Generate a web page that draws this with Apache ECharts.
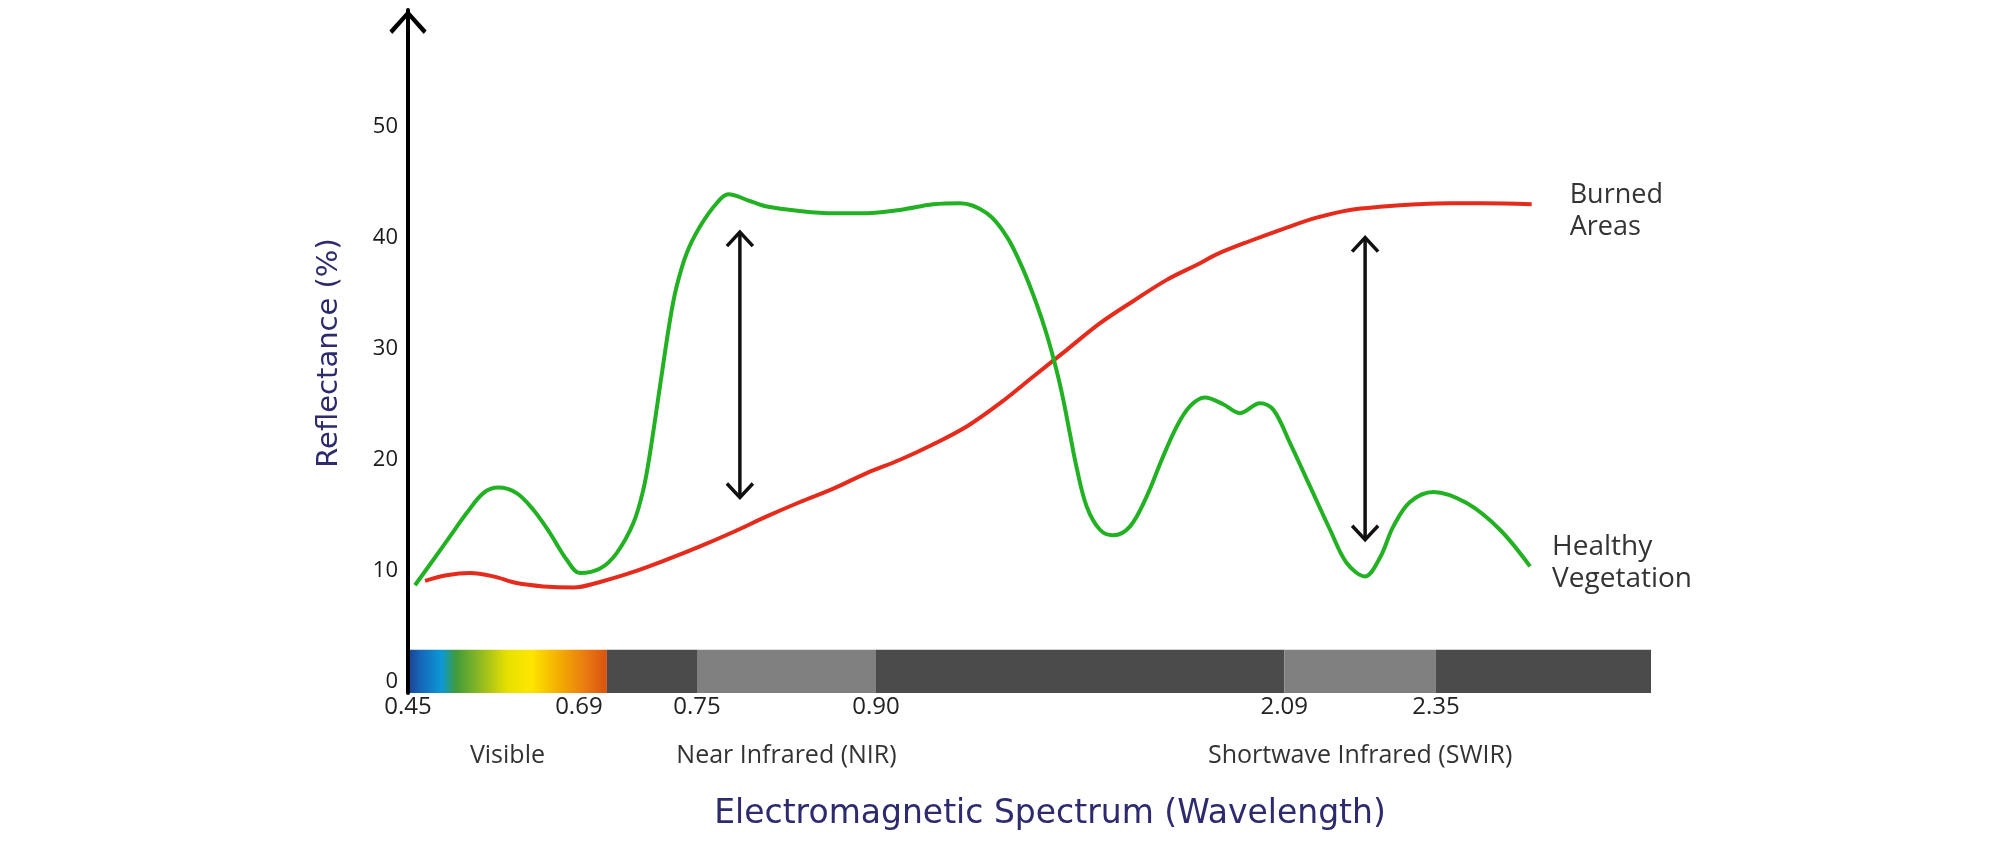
<!DOCTYPE html>
<html><head><meta charset="utf-8">
<script src="https://cdn.jsdelivr.net/npm/echarts@6/dist/echarts.min.js"></script>
<style>html,body{margin:0;padding:0;background:#fff}#c{width:2008px;height:849px}</style>
</head><body><div id="c"></div>
<script>
// Wavelength tick labels (µm) and their schematic positions along the spectrum bar (0-100)
const tickLabels = ['0.45', '0.69', '0.75', '0.90', '2.09', '2.35'];
const tickPos = [0, 16.0, 23.25, 37.65, 70.5, 82.7];
const spectrumEnd = 100;
// Spectral regions: [start tick index, end tick index]
const bandNames = ['Visible', 'Near Infrared (NIR)', 'Shortwave Infrared (SWIR)'];
const bandTicks = [[0, 1], [2, 3], [4, 5]];
const yTicks = [0, 10, 20, 30, 40, 50];

// Healthy vegetation reflectance (%)
const vegPos = [0.56, 2.04, 3.38, 4.72, 6.06, 7.27, 8.74, 10.08, 11.42, 12.77, 13.84, 15.45, 16.79, 18.13, 18.93, 19.47, 20.27, 21.08, 21.61, 22.42, 23.49, 24.83, 25.77, 27.5, 28.86, 31.54, 34.22, 36.9, 39.58, 42.26, 44.41, 46.56, 48.17, 49.5, 50.58, 51.38, 52.19, 52.72, 53.26, 53.79, 54.6, 55.67, 56.74, 58.09, 59.43, 60.6, 61.8, 62.9, 64.11, 65.59, 66.93, 68.54, 69.62, 70.96, 72.57, 74.18, 75.52, 76.99, 78.2, 79.27, 80.61, 82.49, 85.17, 87.85, 90.27];
const vegVal = [8.7, 11.0, 13.1, 15.2, 17.0, 17.5, 17.0, 15.5, 13.4, 11.0, 9.8, 10.2, 11.6, 14.3, 17.3, 20.6, 26.6, 32.6, 35.6, 38.6, 41.0, 43.1, 43.9, 43.3, 42.8, 42.4, 42.2, 42.2, 42.5, 43.0, 43.1, 42.2, 40.1, 37.1, 34.0, 31.3, 28.0, 25.4, 22.3, 19.3, 15.8, 13.7, 13.2, 14.0, 16.7, 19.9, 22.9, 24.8, 25.6, 25.0, 24.2, 25.1, 24.5, 21.5, 17.6, 13.7, 10.7, 9.5, 11.2, 14.0, 16.2, 17.1, 16.1, 13.7, 10.4];
// Burned areas reflectance (%)
const burnPos = [1.37, 3.11, 4.99, 6.86, 8.74, 10.89, 13.3, 15.45, 18.13, 20.81, 23.49, 26.17, 28.86, 31.54, 34.22, 36.9, 39.58, 42.26, 44.95, 47.63, 50.31, 53.0, 55.68, 58.36, 61.04, 63.72, 65.05, 67.74, 70.42, 73.1, 75.78, 78.46, 81.15, 83.83, 86.51, 90.4];
const burnVal = [9.1, 9.6, 9.8, 9.5, 8.9, 8.6, 8.5, 9.0, 9.9, 11.0, 12.2, 13.5, 14.9, 16.2, 17.4, 18.8, 20.0, 21.4, 23.0, 25.1, 27.5, 29.9, 32.3, 34.3, 36.2, 37.7, 38.5, 39.7, 40.8, 41.8, 42.5, 42.8, 43.0, 43.1, 43.1, 43.0];
// Difference arrows: [position, top %, bottom %]
const arrowPos = [26.7, 77.0];
const arrowTop = [40.5, 40.0];
const arrowBottom = [16.6, 12.8];

const segEdges = tickPos.concat([spectrumEnd]);
const segData = [];
for (let i = 0; i < segEdges.length - 1; i++) segData.push([segEdges[i], segEdges[i + 1], i]);
const bandMid = bandTicks.map(b => (tickPos[b[0]] + tickPos[b[1]]) / 2);

const FONT = 'Open Sans';
const WIDE = 'DejaVu Sans';
const chart = echarts.init(document.getElementById('c'));
const visibleGrad = new echarts.graphic.LinearGradient(0, 0, 1, 0, [
  {offset: 0, color: '#1d3f8f'}, {offset: 0.06, color: '#1566b8'}, {offset: 0.17, color: '#0c98d6'},
  {offset: 0.24, color: '#3f9b3b'}, {offset: 0.36, color: '#8db822'}, {offset: 0.5, color: '#e8e000'},
  {offset: 0.62, color: '#fde600'}, {offset: 0.76, color: '#f4ad00'}, {offset: 0.9, color: '#e87812'},
  {offset: 1, color: '#d9520e'}]);
function segColor(i) {
  if (i === 0) return visibleGrad;
  const inBand = bandTicks.some(b => b[0] === i && b[0] !== 0);
  return inBand ? '#808080' : '#4b4b4b';
}

chart.setOption({
  animation: false,
  grid: {left: 408, right: 357, top: 10, bottom: 156, containLabel: false},
  xAxis: [{
    type: 'value', min: 0, max: spectrumEnd,
    axisLine: {show: false}, axisTick: {show: false}, splitLine: {show: false},
    axisLabel: {customValues: tickPos,
      formatter: v => { const i = tickPos.indexOf(v); return i === 1 ? '{l|' + tickLabels[i] + '}' : (tickLabels[i] || ''); },
      rich: {l: {fontFamily: FONT, fontSize: 24, color: '#222', padding: [0, 56, 0, 0]}},
      fontFamily: FONT, fontSize: 24, color: '#222', margin: 2}
  }, {
    type: 'value', min: 0, max: spectrumEnd, position: 'bottom', offset: 48,
    axisLine: {show: false}, axisTick: {show: false}, splitLine: {show: false},
    axisLabel: {customValues: bandMid, formatter: v => bandNames[bandMid.indexOf(v)] || '',
      fontFamily: FONT, fontSize: 25, color: '#333', margin: 2}
  }],
  yAxis: {
    type: 'value', min: -1, max: 60.5, z: 5,
    axisLine: {show: true, lineStyle: {color: '#000', width: 4},
      symbol: ['none', 'path://M19,0 L38,21 L35,24.5 L19,6.5 L3,24.5 L0,21 Z'],
      symbolSize: [38, 24], symbolOffset: [0, -12]},
    axisTick: {show: false}, splitLine: {show: false},
    axisLabel: {customValues: yTicks, fontFamily: FONT, fontSize: 22, color: '#1a1a1a', margin: 10}
  },
  graphic: [
    {type: 'text', x: 329, y: 353, rotation: Math.PI / 2,
      style: {text: 'Reflectance (%)', fontFamily: WIDE, fontSize: 29, fill: '#2d2a6e', align: 'center', verticalAlign: 'middle'}},
    {type: 'text', x: 1050, y: 814,
      style: {text: 'Electromagnetic Spectrum (Wavelength)', fontFamily: WIDE, fontSize: 33, fill: '#2d2a6e', align: 'center', verticalAlign: 'middle'}}
  ],
  series: [
    {
      type: 'custom', z: 1, xAxisIndex: 0, data: segData, clip: false,
      renderItem: function (params, api) {
        const topY = api.coord([0, 2.9])[1];
        const botY = params.coordSys.y + params.coordSys.height;
        const x0 = api.coord([api.value(0), 0])[0];
        const x1 = api.coord([api.value(1), 0])[0];
        return {type: 'rect', shape: {x: x0, y: topY, width: x1 - x0, height: botY - topY},
          style: {fill: segColor(api.value(2))}};
      }
    },
    {
      type: 'line', name: 'Burned Areas', data: burnPos.map((p, i) => [p, burnVal[i]]),
      smooth: 0.35, showSymbol: false, lineStyle: {color: '#e52b1b', width: 4}, z: 3,
      endLabel: {show: true, formatter: 'Burned\nAreas', distance: 38, offset: [0, 7],
        fontFamily: FONT, fontSize: 27, lineHeight: 32, color: '#333', align: 'left'}
    },
    {
      type: 'line', name: 'Healthy Vegetation', data: vegPos.map((p, i) => [p, vegVal[i]]),
      smooth: 0.35, showSymbol: false, lineStyle: {color: '#22b122', width: 4}, z: 4,
      endLabel: {show: true, formatter: 'Healthy\nVegetation', distance: 22, offset: [0, -3],
        fontFamily: FONT, fontSize: 28, lineHeight: 32, color: '#333', align: 'left'}
    },
    {
      type: 'custom', z: 6, data: arrowPos.map((p, i) => [p, arrowTop[i], arrowBottom[i]]),
      renderItem: function (params, api) {
        const t = api.coord([api.value(0), api.value(1)]);
        const b = api.coord([api.value(0), api.value(2)]);
        const w = 13, h = 14;
        const st = {stroke: '#111', lineWidth: 3.5, fill: null, lineJoin: 'miter'};
        return {type: 'group', children: [
          {type: 'line', shape: {x1: t[0], y1: t[1] + 1, x2: b[0], y2: b[1] - 1}, style: st},
          {type: 'polyline', shape: {points: [[t[0] - w, t[1] + h], [t[0], t[1]], [t[0] + w, t[1] + h]]}, style: st},
          {type: 'polyline', shape: {points: [[b[0] - w, b[1] - h], [b[0], b[1]], [b[0] + w, b[1] - h]]}, style: st}
        ]};
      }
    }
  ]
});
</script></body></html>
